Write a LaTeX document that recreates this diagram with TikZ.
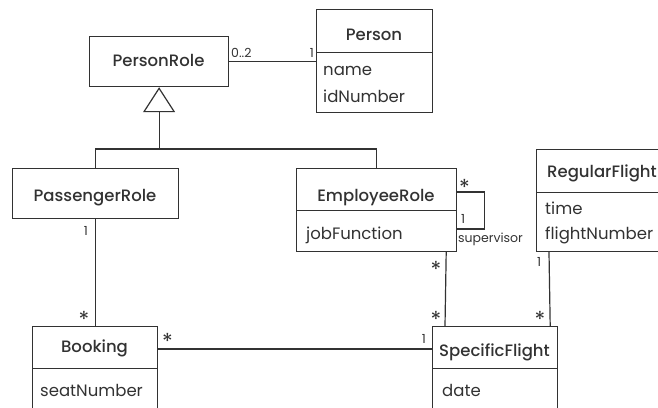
\documentclass[tikz,border=0pt]{standalone}
\usepackage{fontspec}
\setmainfont{Poppins}
\newfontfamily\medfont{Poppins Medium}
\usetikzlibrary{arrows.meta,calc}
\definecolor{ink}{RGB}{50,50,50}
\begin{document}
\begin{tikzpicture}[x=1pt,y=-1pt,
  box/.style={draw=ink, line width=1.2pt, inner sep=0pt, anchor=north west},
  cname/.style={font=\medfont\fontsize{16.5}{19}\selectfont, text=ink, anchor=base, inner sep=0pt},
  attr/.style={font=\fontsize{16.5}{19}\selectfont, text=ink, anchor=base west, inner sep=0pt},
  mult/.style={font=\fontsize{12.5}{14}\selectfont, text=ink, inner sep=0pt},
  star/.style={font=\fontsize{22}{24}\selectfont, text=ink, inner sep=0pt, anchor=north},
  link/.style={draw=ink, line width=1.2pt}]
\useasboundingbox (0,0) rectangle (658,407);
\clip (0,0) rectangle (658,407);
% class boxes
\node[box, minimum width=139pt, minimum height=50pt] (personrole) at (89,36) {};
\node[box, minimum width=116pt, minimum height=43pt] (personhead) at (316,9) {};
\node[box, minimum width=116pt, minimum height=60pt] (personbody) at (316,52) {};
\node[box, minimum width=166pt, minimum height=50pt] (passengerrole) at (12,168) {};
\node[box, minimum width=160pt, minimum height=42pt] (emphead) at (296,168) {};
\node[box, minimum width=160pt, minimum height=41pt] (empbody) at (296,210) {};
\node[box, minimum width=132pt, minimum height=43pt] (rfhead) at (536,149) {};
\node[box, minimum width=132pt, minimum height=59pt] (rfbody) at (536,192) {};
\node[box, minimum width=125pt, minimum height=42pt] (bookhead) at (32,326) {};
\node[box, minimum width=125pt, minimum height=52pt] (bookbody) at (32,368) {};
\node[box, minimum width=125pt, minimum height=42pt] (sfhead) at (432,326) {};
\node[box, minimum width=125pt, minimum height=52pt] (sfbody) at (432,368) {};
% class names
\node[cname] (tpersonrole) at (158.5,66.7) {PersonRole};
\node[cname] (tperson) at (374,40) {Person};
\node[cname] (tpassenger) at (95,201) {PassengerRole};
\node[cname] (temployee) at (376,201) {EmployeeRole};
\node[cname] (tregular) at (602,177) {RegularFlight};
\node[cname] (tbooking) at (94.5,352.5) {Booking};
\node[cname] (tspecific) at (494.5,356) {SpecificFlight};
% attributes
\node[attr] (aname) at (323,75) {name};
\node[attr] (aid) at (323,102) {idNumber};
\node[attr] (ajob) at (306,239) {jobFunction};
\node[attr] (atime) at (545,214) {time};
\node[attr] (aflight) at (545,239) {flightNumber};
\node[attr] (aseat) at (40,396) {seatNumber};
\node[attr] (adate) at (442,396) {date};
% generalization
\coordinate (gen) at (personrole.south |- 0,149);
\draw[link, -{Triangle[open, length=25pt, width=32pt, line width=1.2pt]}] (gen) -- (personrole.south);
\draw[link] (passengerrole.north) |- (gen) -| (emphead.north);
% associations
\draw[link] (personrole.east) -- (personrole.east -| personbody.west);
\draw[link] (passengerrole.south) -- (passengerrole.south |- bookhead.north);
\draw[link] ($(empbody.south east)+(-11,0)$) -- ($(sfhead.north west)+(13,0)$);
\draw[link] ($(rfbody.south west)+(13,0)$) -- ($(sfhead.north east)+(-8,0)$);
\draw[link] ($(bookhead.north east)+(0,23)$) -- ($(sfhead.north west)+(0,23)$);
\draw[link] ($(emphead.north east)+(0,24)$) -- ++(27,0) |- ($(empbody.north east)+(0,19)$);
% multiplicities
\node[mult, anchor=north west] (m02) at (231,48) {0..2};
\node[mult, anchor=north east] (m1p) at (314,48) {1};
\node[mult, anchor=north east] (m1pr) at (88,226) {1};
\node[star] (sbook) at (84,311) {*};
\node[star] (sbook2) at (167.5,333) {*};
\node[mult, anchor=north east] (m1sf) at (426,334) {1};
\node[star] (ssf1) at (436,311) {*};
\node[star] (ssf2) at (540,311) {*};
\node[star] (semp) at (436,261) {*};
\node[mult, anchor=north west] (m1rf) at (537,257) {1};
\node[star] (sloop) at (464.5,179) {*};
\node[mult, anchor=north west] (m1loop) at (461,214) {1};
\node[mult, anchor=base west] (sup) at (458,242) {supervisor};
\end{tikzpicture}
\end{document}
